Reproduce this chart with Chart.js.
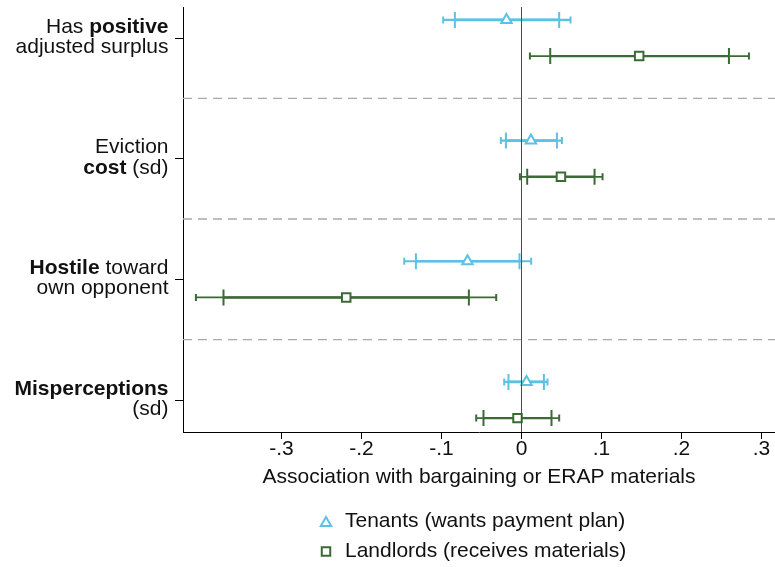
<!DOCTYPE html>
<html><head><meta charset="utf-8">
<script src="https://cdn.jsdelivr.net/npm/chart.js@4/dist/chart.umd.min.js"></script>
<style>html,body{margin:0;padding:0;background:#fff;}#wrap{width:775px;height:567px;position:relative;}</style>
</head><body><div id="wrap"><canvas id="c" width="775" height="567"></canvas></div>
<script>
// ---- data ----
const categoryLine1 = ['Has **positive**', 'Eviction', '**Hostile** toward', '**Misperceptions**'];
const categoryLine2 = ['adjusted surplus', '**cost** (sd)', 'own opponent', '(sd)'];

const tenantsLabel = 'Tenants (wants payment plan)';
const tenantsCoef = [-0.0188, 0.0118, -0.0675, 0.0063];
const tenantsLo95 = [-0.0979, -0.0258, -0.1466, -0.0216];
const tenantsHi95 = [0.0613, 0.0505, 0.0121, 0.0325];
const tenantsLo90 = [-0.0833, -0.0195, -0.1320, -0.0163];
const tenantsHi90 = [0.0471, 0.0443, -0.0025, 0.0280];

const landlordsLabel = 'Landlords (receives materials)';
const landlordsCoef = [0.1471, 0.0493, -0.2191, -0.0050];
const landlordsLo95 = [0.0105, -0.0020, -0.4070, -0.0566];
const landlordsHi95 = [0.2843, 0.1013, -0.0316, 0.0471];
const landlordsLo90 = [0.0359, 0.0071, -0.3725, -0.0475];
const landlordsHi90 = [0.2593, 0.0913, -0.0658, 0.0375];

const xTicks = [-0.3, -0.2, -0.1, 0, 0.1, 0.2, 0.3];
const xTickLabels = ['-.3', '-.2', '-.1', '0', '.1', '.2', '.3'];
const xTitle = 'Association with bargaining or ERAP materials';

// ---- style ----
const FONT = "'Liberation Sans', Arial, Helvetica, sans-serif";
const FS = 21;
const tenantColor = '#5cc1e4';
const landlordColor = '#3c6a36';
const XMIN = -0.423125, XMAX = 0.316875;
const YMIN = 0.743, YMAX = 4.265;
const OFF = 0.15;

const tenantY = tenantsCoef.map((v, i) => i + 1 - OFF);
const landlordY = landlordsCoef.map((v, i) => i + 1 + OFF);

const series = [
  {coef: tenantsCoef, lo95: tenantsLo95, hi95: tenantsHi95, lo90: tenantsLo90, hi90: tenantsHi90, ys: tenantY, color: tenantColor, wOut: 2.2, wIn: 2.6},
  {coef: landlordsCoef, lo95: landlordsLo95, hi95: landlordsHi95, lo90: landlordsLo90, hi90: landlordsHi90, ys: landlordY, color: landlordColor, wOut: 1.8, wIn: 2.4}
];

const errorBars = {
  id: 'errorBars',
  beforeDatasetsDraw(chart) {
    const {ctx, scales: {x, y}} = chart;
    ctx.save();
    ctx.lineCap = 'butt';
    series.forEach(s => {
      ctx.strokeStyle = s.color;
      s.coef.forEach((c, i) => {
        const py = y.getPixelForValue(s.ys[i]);
        const a = x.getPixelForValue(s.lo95[i]), b = x.getPixelForValue(s.hi95[i]);
        const a9 = x.getPixelForValue(s.lo90[i]), b9 = x.getPixelForValue(s.hi90[i]);
        ctx.lineWidth = s.wOut;
        ctx.beginPath(); ctx.moveTo(a, py); ctx.lineTo(b, py); ctx.stroke();
        ctx.lineWidth = s.wIn;
        ctx.beginPath(); ctx.moveTo(a9, py); ctx.lineTo(b9, py); ctx.stroke();
        ctx.lineWidth = 2;
        ctx.beginPath();
        ctx.moveTo(a, py - 3.5); ctx.lineTo(a, py + 3.5);
        ctx.moveTo(b, py - 3.5); ctx.lineTo(b, py + 3.5);
        ctx.stroke();
        ctx.beginPath();
        ctx.moveTo(a9, py - 8); ctx.lineTo(a9, py + 8);
        ctx.moveTo(b9, py - 8); ctx.lineTo(b9, py + 8);
        ctx.stroke();
      });
    });
    ctx.restore();
  }
};

function drawRich(ctx, str, xRight, yBase) {
  const parts = str.split('**');
  const segs = parts.map((t, k) => ({t, b: k % 2 === 1})).filter(s => s.t.length);
  let total = 0;
  segs.forEach(s => { ctx.font = (s.b ? 'bold ' : '') + FS + 'px ' + FONT; s.w = ctx.measureText(s.t).width; total += s.w; });
  let xx = xRight - total;
  segs.forEach(s => { ctx.font = (s.b ? 'bold ' : '') + FS + 'px ' + FONT; ctx.fillText(s.t, xx, yBase); xx += s.w; });
}

const labelsAndLegend = {
  id: 'labelsAndLegend',
  afterDraw(chart) {
    const {ctx, scales: {y}} = chart;
    ctx.save();
    ctx.fillStyle = '#111';
    ctx.textAlign = 'left';
    ctx.textBaseline = 'alphabetic';
    const xr = chart.chartArea.left - 14.5;
    categoryLine1.forEach((l1, i) => {
      const py = y.getPixelForValue(i + 1);
      drawRich(ctx, l1, xr, py - 5.5);
      drawRich(ctx, categoryLine2[i], xr, py + 15);
    });
    // legend
    const items = [
      {label: tenantsLabel, style: 'triangle', color: tenantColor, r: 6, yy: 521.5},
      {label: landlordsLabel, style: 'rect', color: landlordColor, r: 6, yy: 551.5}
    ];
    items.forEach(it => {
      ctx.strokeStyle = it.color; ctx.fillStyle = '#fff'; ctx.lineWidth = 2;
      Chart.helpers.drawPoint(ctx, {pointStyle: it.style, radius: it.r, rotation: 0, borderWidth: 2}, 326, it.style === 'triangle' ? it.yy + 1.5 : it.yy);
      ctx.fillStyle = '#111';
      ctx.font = FS + 'px ' + FONT;
      ctx.textBaseline = 'middle';
      ctx.fillText(it.label, 345, it.yy);
    });
    ctx.restore();
  }
};

const sepLine = (v) => ({
  type: 'line', data: [{x: XMIN, y: v}, {x: XMAX, y: v}], borderColor: '#a9a9a9', borderWidth: 1.3,
  borderDash: [9, 6], pointRadius: 0, order: 5, clip: false
});

new Chart(document.getElementById('c'), {
  type: 'scatter',
  data: {
    datasets: [
      {type: 'line', data: [{x: 0, y: YMIN}, {x: 0, y: YMAX}], borderColor: '#ff0000', borderWidth: 1, pointRadius: 0, order: 0},
      {label: tenantsLabel, data: tenantsCoef.map((v, i) => ({x: v, y: tenantY[i]})), pointStyle: 'triangle', radius: 6,
       borderColor: tenantColor, backgroundColor: '#fff', borderWidth: 2, order: 1},
      {label: landlordsLabel, data: landlordsCoef.map((v, i) => ({x: v, y: landlordY[i]})), pointStyle: 'rect', radius: 6,
       borderColor: landlordColor, backgroundColor: '#fff', borderWidth: 2, order: 1},
      sepLine(1.5), sepLine(2.5), sepLine(3.5)
    ]
  },
  options: {
    responsive: false, animation: false, devicePixelRatio: 1,
    layout: {autoPadding: false, padding: {top: 7, left: 0, right: 0, bottom: 75}},
    plugins: {legend: {display: false}, tooltip: {enabled: false}},
    scales: {
      x: {
        type: 'linear', min: XMIN, max: XMAX, position: 'bottom',
        afterBuildTicks: s => { s.ticks = xTicks.map(v => ({value: v})); },
        afterFit: s => { s.height = 60; s.paddingLeft = 0; s.paddingRight = 0; },
        ticks: {callback: (v) => { const k = xTicks.findIndex(t => Math.abs(t - v) < 1e-9); return k >= 0 ? xTickLabels[k] : ''; },
                font: {family: FONT, size: FS, lineHeight: 1}, color: '#111', padding: 0, maxRotation: 0, autoSkip: false},
        grid: {display: true, drawOnChartArea: false, drawTicks: true, tickLength: 7, color: '#000', lineWidth: 1},
        border: {display: true, color: '#000', width: 1},
        title: {display: true, text: xTitle, font: {family: FONT, size: FS}, color: '#111', padding: {top: 0, bottom: 2.4}}
      },
      y: {
        type: 'linear', reverse: true, min: YMIN, max: YMAX,
        afterBuildTicks: s => { s.ticks = [1, 2, 3, 4].map(v => ({value: v})); },
        afterFit: s => { s.width = 183; s.paddingTop = 0; s.paddingBottom = 0; },
        ticks: {display: false},
        grid: {display: true, drawOnChartArea: false, drawTicks: true, tickLength: 8, color: '#000', lineWidth: 1},
        border: {display: true, color: '#000', width: 1}
      }
    }
  },
  plugins: [errorBars, labelsAndLegend]
});
</script></body></html>
